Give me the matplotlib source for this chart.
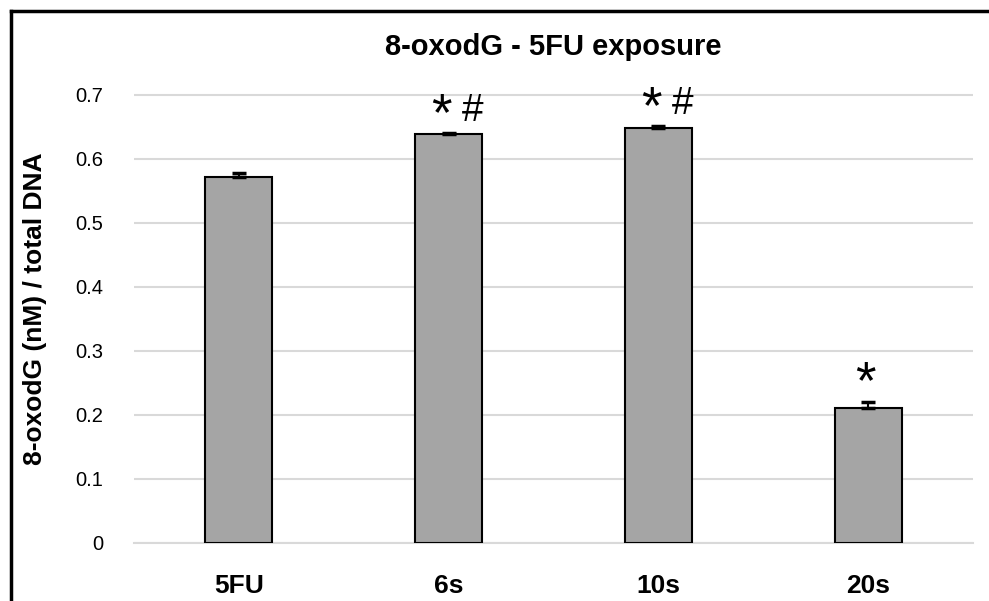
import matplotlib
matplotlib.use("Agg")
import matplotlib.pyplot as plt
from matplotlib.lines import Line2D
from matplotlib.transforms import offset_copy

plt.rcParams['font.family'] = ['Liberation Sans', 'DejaVu Sans']

categories = ["5FU", "6s", "10s", "20s"]
values = [0.572, 0.639, 0.649, 0.211]
errors = [0.006, 0.002, 0.003, 0.010]
star_marks = ["", "*", "*", "*"]
hash_marks = ["", "#", "#", ""]
yticks = [0, 0.1, 0.2, 0.3, 0.4, 0.5, 0.6, 0.7]

fig = plt.figure(figsize=(9.89, 6.01), dpi=100)
ax = fig.add_axes([134/989, 1-543/601, (973-134)/989, (543-74)/601])

x = list(range(len(categories)))
ax.bar(x, values, width=0.32, color="#A5A5A5", edgecolor="black", linewidth=1.5, zorder=3)
ax.errorbar(x, values, yerr=[[0]*len(errors), errors], fmt="none", ecolor="black",
            elinewidth=1.5, capsize=5, capthick=2.5, zorder=4)
ax.set_xlim(-0.5, 3.5)
ax.set_ylim(0, 0.7 + 21/64*0.1)
ax.set_yticks(yticks)
ax.set_yticklabels(["0", "0.1", "0.2", "0.3", "0.4", "0.5", "0.6", "0.7"], fontsize=14.5)
ax.set_xticks(x)
ax.set_xticklabels(categories, fontsize=19, fontweight="bold")
ax.tick_params(axis="both", length=0)
ax.tick_params(axis="y", pad=22)
ax.tick_params(axis="x", pad=22)
ax.grid(axis="y", color="#D9D9D9", linewidth=1.5, zorder=0)
for s in ["top", "right", "left"]:
    ax.spines[s].set_visible(False)
ax.spines["bottom"].set_color("#D9D9D9")
ax.spines["bottom"].set_linewidth(1.5)

for i, (v, e, s, h) in enumerate(zip(values, errors, star_marks, hash_marks)):
    if s:
        dx = -7 if h else -3
        tr = offset_copy(ax.transData, fig=fig, x=dx, y=3, units="dots")
        ax.text(i, v + e, s, ha="center", va="baseline", fontsize=38, transform=tr)
    if h:
        tr = offset_copy(ax.transData, fig=fig, x=24, y=11.5, units="dots")
        ax.text(i, v + e, h, ha="center", va="baseline", fontsize=28, transform=tr)

ax.set_ylabel("8-oxodG (nM) / total DNA", fontsize=19, fontweight="bold")
ax.yaxis.set_label_coords((47 - 134) / (973 - 134), 0.5)
fig.text(553/989, 1-47/601, "8-oxodG - 5FU exposure", ha="center", va="center",
         fontsize=21, fontweight="bold")

fig.add_artist(Line2D([10.5/989, 10.5/989], [0, 1-10.5/601], color="black", lw=2.5, transform=fig.transFigure))
fig.add_artist(Line2D([10.5/989, 1], [1-11/601, 1-11/601], color="black", lw=2.5, transform=fig.transFigure))

fig.savefig("out.png", dpi=100)
